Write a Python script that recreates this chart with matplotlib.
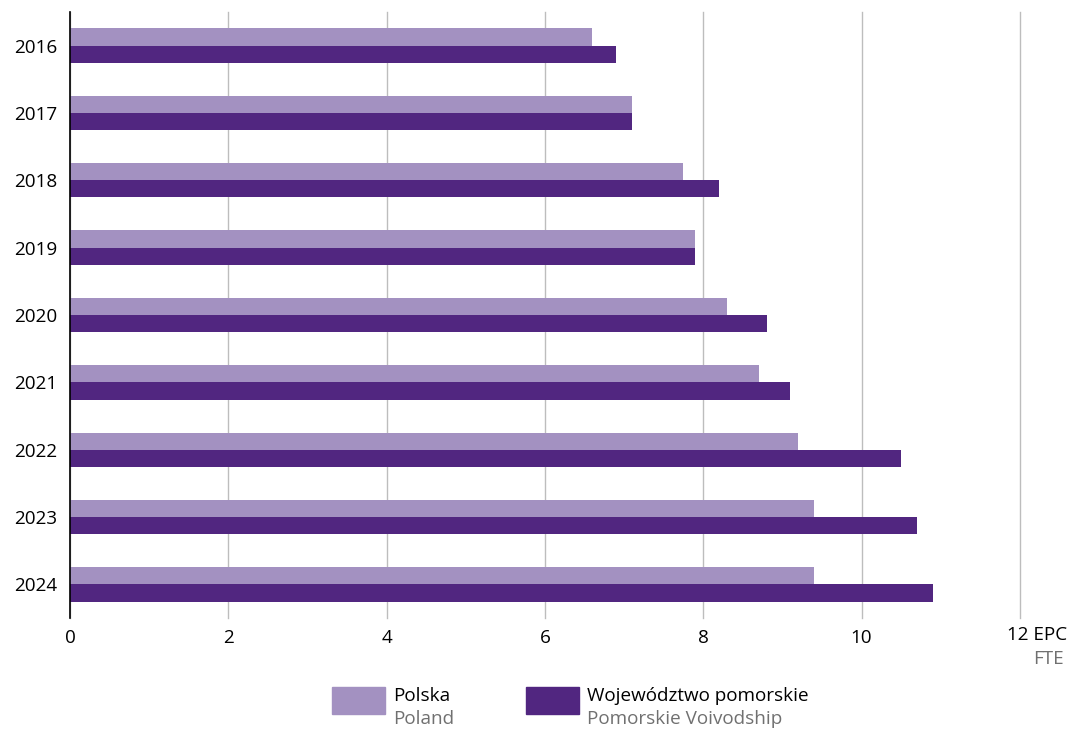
import matplotlib.pyplot as plt
from matplotlib.patches import Rectangle
import numpy as np

years = ["2016", "2017", "2018", "2019", "2020", "2021", "2022", "2023", "2024"]
polska = [6.6, 7.1, 7.75, 7.9, 8.3, 8.7, 9.2, 9.4, 9.4]
pomorskie = [6.9, 7.1, 8.2, 7.9, 8.8, 9.1, 10.5, 10.7, 10.9]
xticks = [0, 2, 4, 6, 8, 10, 12]

light = "#a391c1"
dark = "#512680"
gray_txt = "#707070"
fs = 13.6

plt.rcParams['font.family'] = ['Open Sans', 'DejaVu Sans']

fig = plt.figure(figsize=(10.77, 7.30), dpi=100)
ax = fig.add_axes([0.065, 0.1534, 0.882, 0.8302])

y = np.arange(len(years))
h = 0.255
ax.barh(y - h / 2, polska, height=h, color=light, zorder=3)
ax.barh(y + h / 2, pomorskie, height=h, color=dark, zorder=3)

ax.set_xlim(0, 12)
ax.set_ylim(len(years) - 0.5, -0.5)
ax.set_yticks(y)
ax.set_yticklabels(years, fontsize=fs)
ax.set_xticks(xticks)
ax.set_xticklabels([str(t) for t in xticks[:-1]] + [""], fontsize=fs)
ax.tick_params(axis="both", length=0)
ax.tick_params(axis="y", pad=9)
ax.tick_params(axis="x", pad=8)
ax.grid(True, axis="x", color="#bdbdbd", linewidth=1, zorder=0)
for gl in ax.get_xgridlines():
    gl.set_clip_on(False)
for s in ["top", "right", "bottom"]:
    ax.spines[s].set_visible(False)
ax.spines["left"].set_color("black")
ax.spines["left"].set_linewidth(1.2)
ax.spines["left"].set_zorder(4)

# unit label at the 12 tick
fig.text(1007 / 1077, 1 - 635 / 730, "12 EPC", fontsize=fs, ha="left", va="center")
fig.text(1064 / 1077, 1 - 659 / 730, "FTE", fontsize=fs, ha="right", va="center", color=gray_txt)

# legend
legend_items = [(332, light, "Polska", "Poland"),
                (526, dark, "Województwo pomorskie", "Pomorskie Voivodship")]
for x0, col, pl, en in legend_items:
    fig.patches.append(Rectangle((x0 / 1077, 1 - 714 / 730), 53 / 1077, 27 / 730,
                                 transform=fig.transFigure, color=col))
    fig.text((x0 + 61) / 1077, 1 - 696 / 730, pl, fontsize=fs, ha="left", va="center")
    fig.text((x0 + 61) / 1077, 1 - 719 / 730, en, fontsize=fs, ha="left", va="center", color=gray_txt)

fig.savefig("out.png", dpi=100)
